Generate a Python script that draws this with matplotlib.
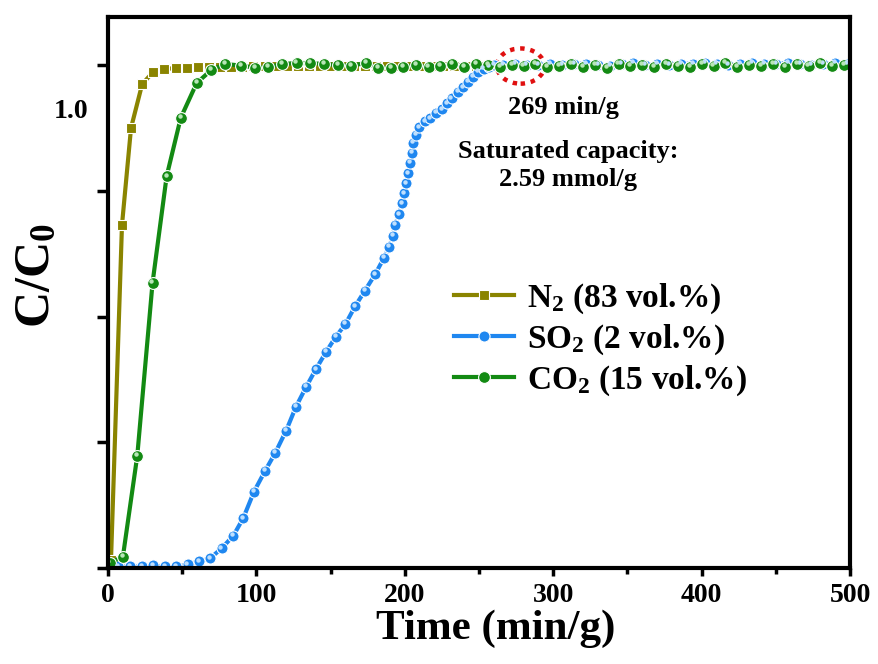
import matplotlib
matplotlib.use("Agg")
import matplotlib.pyplot as plt
from matplotlib.patches import Ellipse
from matplotlib.transforms import offset_copy

plt.rcParams['font.family'] = ['Liberation Serif', 'DejaVu Serif']
plt.rcParams['font.weight'] = 'bold'
plt.rcParams['axes.labelweight'] = 'bold'
plt.rcParams['mathtext.fontset'] = 'custom'
plt.rcParams['mathtext.rm'] = 'Liberation Serif:bold'
plt.rcParams['mathtext.bf'] = 'Liberation Serif:bold'
plt.rcParams['mathtext.it'] = 'Liberation Serif:bold'

# N2 breakthrough (olive squares)
n2_x = [2, 9.4, 15.5, 23, 30.3, 37.7, 45.8, 53.2, 60.5, 68, 75.5, 83, 90.5, 98,
        105.5, 113, 120.5, 128, 135.5, 143, 150.5, 158, 165.5, 173, 180.5, 188,
        195.5, 203, 210.5, 218, 225.5, 233, 240.5, 248]
n2_y = [0.016, 0.682, 0.875, 0.962, 0.986, 0.992, 0.994, 0.995, 0.996, 0.996,
        0.997, 0.997, 0.997, 0.998, 0.998, 0.998, 0.998, 0.998, 0.998, 0.998,
        0.998, 0.998, 0.998, 0.998, 0.998, 0.998, 0.998, 0.998, 0.998, 0.998,
        0.998, 0.998, 0.998, 0.998]

# SO2 breakthrough (blue spheres)
so2_x = [0, 7, 14.8, 22.7, 30.5, 38.4, 45.7, 53.6, 61.3, 68.7, 76.5, 84.4, 91.1,
         98.4, 105.8, 112.7, 120, 126.7, 133.5, 140, 147, 153.5, 160, 166.4, 173,
         180, 186, 189.6, 191.8, 193.4, 196, 198, 199.5, 200.8, 202, 203.5, 204.6,
         205.7, 207.5, 209.8, 213.6, 217, 221, 224.8, 228.2, 231.5, 236, 239.4,
         242.8, 246.1, 249.5, 253, 256.5, 260, 266, 274, 282, 290, 298, 306, 314,
         322, 330, 338, 346, 354, 362, 370, 378, 386, 394, 402, 410, 418, 426,
         434, 442, 450, 458, 466, 474, 482, 490, 498]
so2_y = [0.002, 0.003, 0.003, 0.003, 0.005, 0.003, 0.003, 0.007, 0.013, 0.019,
         0.039, 0.064, 0.099, 0.152, 0.193, 0.229, 0.273, 0.321, 0.36, 0.395,
         0.43, 0.46, 0.485, 0.52, 0.551, 0.584, 0.617, 0.639, 0.66, 0.682, 0.703,
         0.725, 0.745, 0.765, 0.785, 0.805, 0.825, 0.845, 0.861, 0.876, 0.888,
         0.894, 0.905, 0.912, 0.924, 0.934, 0.947, 0.956, 0.967, 0.977, 0.987,
         0.993, 0.997, 1.0, 1.001, 1.002, 1.0, 1.001, 1.003, 1.0, 1.002,
         1.003, 1.001, 0.999, 1.002, 1.004, 1.001, 1.002, 1.0, 1.002, 1.003,
         1.004, 1.002, 1.0, 1.003, 1.004, 1.002, 1.003, 1.004, 1.003, 1.001,
         1.003, 1.004, 1.002]

# CO2 breakthrough (green spheres)
co2_x = [1, 10, 19.7, 30, 39.5, 49, 59.7, 69.5, 79, 89.4, 99, 108, 117, 127, 136,
         145.6, 155, 164, 174, 182, 190.5, 199, 207.5, 216, 224, 232, 240, 248,
         256, 264, 272, 280, 288, 296, 304, 312, 320, 328, 336, 344, 352, 360,
         368, 376, 384, 392, 400, 408, 416, 424, 432, 440, 448, 456, 464, 472,
         480, 488, 496]
co2_y = [0.01, 0.022, 0.223, 0.567, 0.779, 0.895, 0.964, 0.99, 1.002, 0.999,
         0.995, 0.996, 1.002, 1.004, 1.004, 1.002, 1.0, 0.999, 1.004, 0.994,
         0.995, 0.997, 1.0, 0.996, 0.999, 1.002, 0.997, 1.003, 1.0, 0.996, 1.001,
         0.998, 1.002, 0.996, 0.999, 1.003, 0.997, 1.0, 0.995, 1.002, 0.998,
         1.001, 0.996, 1.003, 0.999, 0.997, 1.002, 0.998, 1.004, 0.997, 1.001,
         0.999, 1.003, 0.996, 1.002, 0.999, 1.004, 0.998, 1.001]

labels = ['N$_{2}$ (83 vol.%)', 'SO$_{2}$ (2 vol.%)', 'CO$_{2}$ (15 vol.%)']
colors = ['#8a8400', '#1f87f0', '#138a13']

fig = plt.figure(figsize=(8.79, 6.64), dpi=100)
ax = fig.add_axes([0.1229, 0.1446, 0.8442, 0.8294])

ax.plot(n2_x, n2_y, '-s', color=colors[0], lw=3, ms=7.5, mec='white', mew=0.8,
        label=labels[0])
ax.plot(so2_x, so2_y, '-o', color=colors[1], lw=3, ms=8, mec='white', mew=0.8,
        label=labels[1])
ax.plot(co2_x, co2_y, '-o', color=colors[2], lw=3, ms=8.5, mec='white', mew=0.8,
        label=labels[2])

# sphere highlights
hl = offset_copy(ax.transData, fig=fig, x=-0.8, y=1.2, units='points')
ax.plot(so2_x, so2_y, 'o', color='#bfe0ff', ms=2.2, transform=hl)
ax.plot(co2_x, co2_y, 'o', color='#b8e6b8', ms=2.2, transform=hl)

ax.add_patch(Ellipse((278, 0.998), 32, 0.07, fill=False, ec='#e01010',
                     lw=3.2, ls=(0, (1, 1.3))))

ax.text(0.614, 0.837, '269 min/g', transform=ax.transAxes, ha='center',
        va='center', fontsize=19)
ax.text(0.62, 0.757, 'Saturated capacity:', transform=ax.transAxes,
        ha='center', va='center', fontsize=19)
ax.text(0.62, 0.705, '2.59 mmol/g', transform=ax.transAxes, ha='center',
        va='center', fontsize=19)

ax.set_xlim(0, 500)
ax.set_ylim(0, 1.095)
ax.set_xticks([0, 100, 200, 300, 400, 500])
ax.set_xticks([50, 150, 250, 350, 450], minor=True)
ax.set_yticks([0, 0.25, 0.5, 0.75, 1.0])
ax.set_yticklabels([])
ax.text(-0.027, 0.907 / 1.095, '1.0', transform=ax.transAxes, ha='right',
        va='center', fontsize=20)

ax.tick_params(axis='x', which='major', direction='out', length=6, width=2.5,
               labelsize=20, pad=5)
ax.tick_params(axis='x', which='minor', direction='out', length=4, width=2.5)
ax.tick_params(axis='y', which='major', direction='out', length=8, width=2.5)
for s in ax.spines.values():
    s.set_linewidth(3)

ax.set_xlabel('Time (min/g)', fontsize=31)
ax.xaxis.set_label_coords(0.522, -0.075)
ax.set_ylabel('C/C$_{0}$', fontsize=36)
ax.yaxis.set_label_coords(-0.064, 0.53)

leg = ax.legend(loc='center left', bbox_to_anchor=(0.466, 0.415), frameon=False,
                fontsize=24, handlelength=1.8, handletextpad=0.4,
                labelspacing=0.2, borderpad=0, borderaxespad=0)

fig.savefig('out.png', dpi=100)
